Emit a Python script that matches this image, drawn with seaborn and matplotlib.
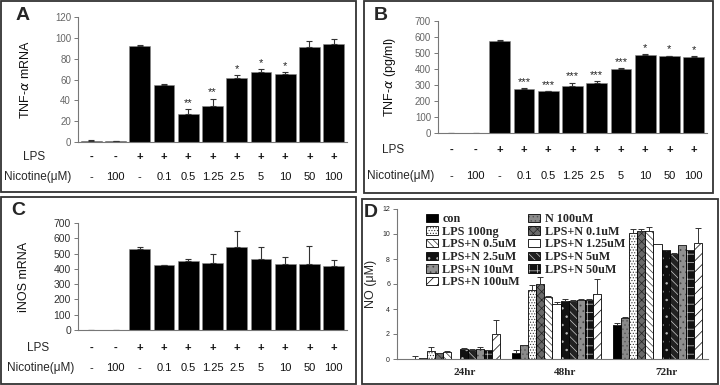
import matplotlib
matplotlib.use("Agg")
import matplotlib.pyplot as plt
import matplotlib.transforms as mtransforms
from matplotlib.colors import to_rgba
from matplotlib.patches import Rectangle
import numpy as np
import pandas as pd
import seaborn as sns

# ---- panel A/B/C common row labels
lps_row = ["-", "-", "+", "+", "+", "+", "+", "+", "+", "+", "+"]
nic_row = ["-", "100", "-", "0.1", "0.5", "1.25", "2.5", "5", "10", "50", "100"]

# ---- panel A: TNF-alpha mRNA
tnf_mrna = [1, 0.5, 92, 55, 27, 35, 61, 67, 65, 91, 94]
tnf_mrna_err = [0.5, 0.3, 1.2, 1, 4.5, 6.5, 3, 3, 2, 5.5, 5]
tnf_mrna_sig = ["", "", "", "", "**", "**", "*", "*", "*", "", ""]

# ---- panel B: TNF-alpha protein
tnf_pg = [0, 0, 575, 275, 260, 295, 310, 400, 485, 480, 475]
tnf_pg_err = [0, 0, 4, 8, 4, 20, 15, 6, 8, 4, 4]
tnf_pg_sig = ["", "", "", "***", "***", "***", "***", "***", "*", "*", "*"]

# ---- panel C: iNOS mRNA
inos = [0, 0, 530, 425, 450, 440, 540, 465, 435, 430, 420]
inos_err = [0, 0, 15, 3, 12, 60, 110, 80, 40, 120, 35]

# ---- panel D: NO production
times = ["24hr", "48hr", "72hr"]
treatments = ["con", "N 100uM", "LPS 100ng", "LPS+N 0.1uM", "LPS+N 0.5uM",
              "LPS+N 1.25uM", "LPS+N 2.5uM", "LPS+N 5uM", "LPS+N 10uM",
              "LPS+N 50uM", "LPS+N 100uM"]
no_24 = [0.02, 0.05, 0.65, 0.45, 0.55, 0.0, 0.8, 0.75, 0.8, 0.7, 2.0]
no_48 = [0.45, 1.1, 5.5, 6.0, 5.0, 4.4, 4.65, 4.65, 4.75, 4.75, 5.2]
no_72 = [2.7, 3.3, 10.1, 10.25, 10.25, 9.2, 8.7, 8.4, 9.1, 8.7, 9.3]
no_24_err = [0.25, 0, 0.35, 0.05, 0.1, 0, 0.05, 0.05, 0.2, 0.05, 1.1]
no_48_err = [0.3, 0.05, 0.4, 0.6, 0.05, 0.2, 0.15, 0.05, 0.05, 0.05, 1.2]
no_72_err = [0.2, 0.05, 0.3, 0.15, 0.3, 0, 0.05, 0.1, 0.05, 0.05, 1.2]

# face, hatch, hatch colour per treatment
d_styles = [
    ("black", "", "black"),
    ("#8a8a8a", "....", "#555555"),
    ("white", "......", "#333333"),
    ("#6a6a6a", "xxxx", "#222222"),
    ("white", "\\\\\\\\\\", "#333333"),
    ("white", "", "black"),
    ("#111111", "..", "#bbbbbb"),
    ("#222222", "\\\\\\\\", "#cccccc"),
    ("#909090", "...", "#444444"),
    ("#111111", "++", "#cccccc"),
    ("white", "///", "black"),
]

sns.set_style("white")
plt.rcParams["font.family"] = ["Liberation Sans", "DejaVu Sans"]
plt.rcParams["hatch.linewidth"] = 0.5

W, H = 720, 385
fig = plt.figure(figsize=(7.2, 3.85), dpi=100)


def fx(px):
    return px / W


def fy(py):
    return 1 - py / H


def frame(x0, y0, x1, y1):
    fig.patches.append(Rectangle((fx(x0), fy(y1)), fx(x1 - x0), (y1 - y0) / H,
                                 transform=fig.transFigure, fill=False,
                                 edgecolor="#333333", linewidth=1.3))


frame(1, 1, 356, 192)
frame(364, 1, 713, 193)
frame(1, 197, 356, 384)
frame(362, 199, 718, 384)


def bar_panel(rect, vals, errs, ymax, ystep, ylabel, sig, lps_y, nic_y,
              lps_x, nic_x, tick_color):
    ax = fig.add_axes(rect)
    df = pd.DataFrame({"g": list(range(len(vals))), "v": vals})
    sns.barplot(data=df, x="g", y="v", color="black", saturation=1,
                width=0.86, ax=ax, errorbar=None)
    for p in ax.patches:
        p.set_edgecolor("#888888")
        p.set_linewidth(0.4)
    x = np.arange(len(vals))
    ax.errorbar(x, vals, yerr=[np.zeros(len(errs)), errs], fmt="none",
                ecolor="#333333", elinewidth=0.8, capsize=2.5, capthick=0.8)
    for i, s in enumerate(sig):
        if s:
            ax.text(i, vals[i] + errs[i] + ymax * 0.01, s, ha="center",
                    va="bottom", fontsize=8, color="#222222")
    ax.set_ylim(0, ymax)
    ax.set_xlim(-0.55, len(vals) - 0.45)
    ax.set_yticks(np.arange(0, ymax + 1, ystep))
    ax.set_xticks([])
    ax.set_xlabel("")
    ax.set_ylabel(ylabel, fontsize=9, color="#111111")
    for s in ["top", "right"]:
        ax.spines[s].set_visible(False)
    for s in ["left", "bottom"]:
        ax.spines[s].set_color("#777777")
        ax.spines[s].set_linewidth(0.8)
    ax.tick_params(axis="y", left=True, length=3, width=0.7, color="#777777",
                   labelsize=7, labelcolor=tick_color, pad=2)
    tr = mtransforms.blended_transform_factory(ax.transData, fig.transFigure)
    for i in range(len(vals)):
        ax.text(i, fy(lps_y), lps_row[i], transform=tr, ha="center",
                va="center", fontsize=8, fontweight="bold", color="#111111")
        ax.text(i, fy(nic_y), nic_row[i], transform=tr, ha="center",
                va="center", fontsize=8, color="#111111")
    fig.text(fx(lps_x), fy(lps_y), "LPS", ha="left", va="center", fontsize=8.5)
    fig.text(fx(nic_x), fy(nic_y), "Nicotine(\u03bcM)", ha="left",
             va="center", fontsize=8.5)
    return ax


axA = bar_panel([fx(78), fy(142), fx(347) - fx(78), (142 - 17) / H],
                tnf_mrna, tnf_mrna_err, 120, 20, "TNF-$\\alpha$ mRNA",
                tnf_mrna_sig, 157, 177, 23, 4, "#666666")
axA.yaxis.set_label_coords(-0.17, 0.5)

axB = bar_panel([fx(438), fy(133), fx(707) - fx(438), (133 - 21) / H],
                tnf_pg, tnf_pg_err, 700, 100, "TNF-$\\alpha$ (pg/ml)",
                tnf_pg_sig, 150, 176, 382, 367, "#666666")
axB.yaxis.set_label_coords(-0.15, 0.5)

axC = bar_panel([fx(78), fy(330), fx(347) - fx(78), (330 - 223) / H],
                inos, inos_err, 700, 100, "iNOS mRNA",
                [""] * 11, 348, 368, 27, 7, "#333333")
axC.yaxis.set_label_coords(-0.18, 0.5)
axC.tick_params(axis="y", labelsize=7.5)

# ---- panel D
axD = fig.add_axes([fx(397), fy(359), fx(708) - fx(397), (359 - 209) / H])
rows = []
for t, vals in zip(times, [no_24, no_48, no_72]):
    for tr_name, v in zip(treatments, vals):
        rows.append({"time": t, "treatment": tr_name, "no": v})
dfD = pd.DataFrame(rows)
sns.barplot(data=dfD, x="time", y="no", hue="treatment", hue_order=treatments,
            order=times, width=0.89, saturation=1, errorbar=None, ax=axD,
            legend=False)
errs_by_time = [no_24_err, no_48_err, no_72_err]
bar_conts = list(axD.containers)
for k, cont in enumerate(bar_conts):
    face, hatch, hc = d_styles[k]
    xs, ys, es = [], [], []
    for j, bar in enumerate(cont.patches):
        bar.set_facecolor(face)
        bar.set_hatch(hatch)
        bar.set_edgecolor("black")
        bar.set_linewidth(0.6)
        if hasattr(bar, "set_hatchcolor"):
            bar.set_hatchcolor(hc)
        else:
            bar._hatch_color = to_rgba(hc)
        xs.append(bar.get_x() + bar.get_width() / 2)
        ys.append(bar.get_height())
        es.append(errs_by_time[j][k])
    axD.errorbar(xs, ys, yerr=[np.zeros(len(es)), es], fmt="none",
                 ecolor="#333333", elinewidth=0.7, capsize=2, capthick=0.7)

order_idx = [0, 2, 4, 6, 8, 10, 1, 3, 5, 7, 9]
axD.legend([bar_conts[i] for i in order_idx],
           [treatments[i] for i in order_idx], ncol=2, loc="upper left",
           bbox_to_anchor=(0.07, 1.02), frameon=False, handlelength=1.0,
           handleheight=0.7, handletextpad=0.35, labelspacing=0.05,
           columnspacing=0.7, borderaxespad=0.2,
           prop={"family": "Liberation Serif", "size": 8.7, "weight": "bold"})
axD.set_ylim(0, 12)
axD.set_xlim(-0.58, 2.5)
axD.set_yticks(np.arange(0, 13, 2))
axD.set_xlabel("")
axD.set_ylabel("NO (\u03bcM)", fontsize=9)
axD.yaxis.set_label_coords(-0.065, 0.5)
for s in ["top", "right"]:
    axD.spines[s].set_visible(False)
for s in ["left", "bottom"]:
    axD.spines[s].set_color("#777777")
    axD.spines[s].set_linewidth(0.8)
axD.tick_params(axis="y", left=True, length=3, width=0.7, color="#777777",
                labelsize=5, pad=2)
axD.tick_params(axis="x", bottom=False, pad=3)
shift = mtransforms.ScaledTranslation(0.09, 0, fig.dpi_scale_trans)
for lab in axD.get_xticklabels():
    lab.set_fontfamily("Liberation Serif")
    lab.set_fontweight("bold")
    lab.set_fontsize(8)
    lab.set_transform(lab.get_transform() + shift)

# panel letters
for letter, px, py in [("A", 16, 16), ("B", 374, 16), ("C", 11, 211),
                       ("D", 364, 213)]:
    fig.text(fx(px), fy(py), letter, fontsize=14, fontweight="bold",
             ha="left", va="center")

fig.savefig("out.png", dpi=100)
